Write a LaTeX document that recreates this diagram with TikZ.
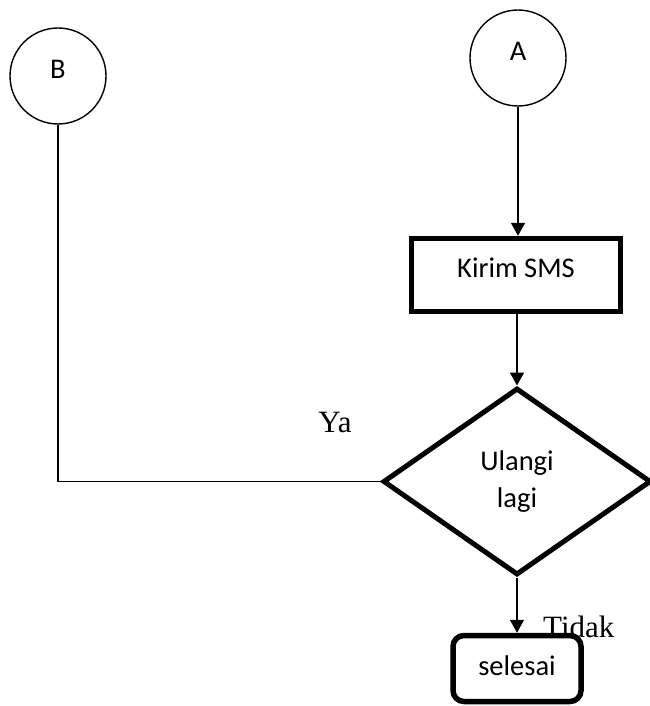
\documentclass[tikz,border=0pt]{standalone}
\usepackage{fontspec}
\setmainfont{Liberation Serif}
\newfontfamily\calfont{Carlito}
\usetikzlibrary{shapes.geometric,arrows.meta}
\tikzset{
  conn/.style={line width=1.6pt},
  arr/.style={conn,-{Triangle[width=14pt,length=13pt]}},
  conncircle/.style={circle,draw,line width=1.4pt,minimum size=96pt,inner sep=0pt,
    font=\calfont\fontsize{28.5}{33}\selectfont,text depth=14pt},
  procbox/.style={rectangle,draw,line width=5.5pt,minimum width=209pt,minimum height=73pt,
    inner sep=0pt,font=\calfont\fontsize{28.5}{33}\selectfont,text depth=14pt},
  decbox/.style={diamond,draw,line width=5pt,minimum width=268pt,minimum height=187pt,
    inner sep=0pt,align=center,font=\calfont\fontsize{28.5}{37}\selectfont},
  endbox/.style={rectangle,rounded corners=11pt,draw,line width=5.5pt,minimum width=128pt,
    minimum height=66pt,inner sep=0pt,font=\calfont\fontsize{28.5}{33}\selectfont,text depth=6pt},
  lbl/.style={font=\fontsize{31}{35}\selectfont,inner sep=0pt}
}
\begin{document}
\begin{tikzpicture}[x=1pt,y=-1pt]
\useasboundingbox[fill=white] (0,0) rectangle (649,706);
\node[conncircle] (B) at (58,76) {B};
\node[conncircle] (A) at (518,58) {A};
\node[procbox] (kirim) at (516,275) {Kirim SMS};
\node[decbox] (ulang) at (517,481.5) {Ulangi\\lagi};
\node[endbox] (selesai) at (517,668.5) {selesai};
\node[lbl,anchor=base] (ya) at (335,432) {Ya};
\node[lbl,anchor=base west] (tidak) at (543,637) {Tidak};
\draw[arr] (A.south) -- (A.south |- kirim.north);
\draw[arr] (ulang.north |- kirim.south) -- (ulang.north);
\draw[arr] (ulang.south) -- (selesai.north);
\draw[conn] (ulang.west) -| (B.south);
\end{tikzpicture}
\end{document}
